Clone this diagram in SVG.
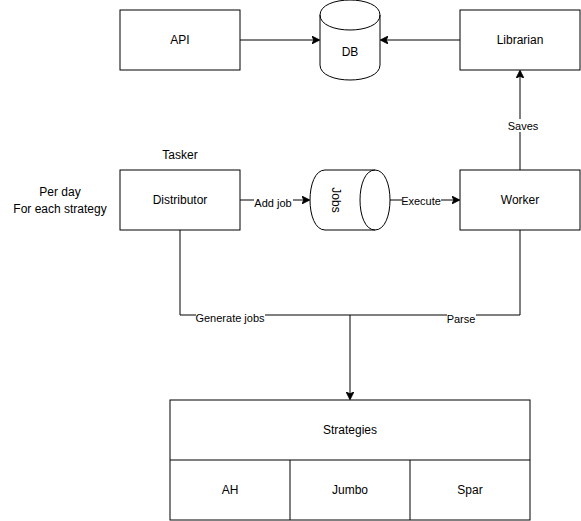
<svg xmlns="http://www.w3.org/2000/svg" width="581" height="521" viewBox="0 0 581 521">
<style>
.box{fill:#fff;stroke:#000;stroke-width:1}
.t{font-family:"Liberation Sans",Arial,Helvetica,sans-serif;font-size:12px;fill:#000;text-anchor:middle;dominant-baseline:central}
.lbl{font-family:"Liberation Sans",Arial,Helvetica,sans-serif;font-size:11px;fill:#000;text-anchor:middle;dominant-baseline:central}
.lb{fill:#fff}
.c{fill:none;stroke:#000;stroke-width:1}
</style>
<defs>
<marker id="arr" viewBox="0 0 10 10" refX="9" refY="5" markerWidth="8" markerHeight="8" markerUnits="userSpaceOnUse" orient="auto">
<path d="M0,0 L10,5 L0,10 L2.5,5 Z" fill="#000" stroke="#000" stroke-width="1"/>
</marker>
</defs>
<rect width="581" height="521" fill="#fff"/>
<g id="connectors">
<path class="c" d="M240,40 L319,40" marker-end="url(#arr)"/>
<path class="c" d="M460,40 L381,40" marker-end="url(#arr)"/>
<path class="c" d="M240,200 L309,200" marker-end="url(#arr)"/>
<path class="c" d="M390,200 L459,200" marker-end="url(#arr)"/>
<path class="c" d="M520,170 L520,71" marker-end="url(#arr)"/>
<path class="c" d="M180,230 L180,315 L520,315 L520,230"/>
<path class="c" d="M350,315 L350,399" marker-end="url(#arr)"/>
<rect class="lb" x="254" y="196" width="39" height="13"/>
<text class="lbl" x="273" y="203">Add job</text>
<rect class="lb" x="402" y="195" width="39" height="13"/>
<text class="lbl" x="421" y="201">Execute</text>
<rect class="lb" x="507" y="119" width="32" height="13"/>
<text class="lbl" x="523" y="126">Saves</text>
<rect class="lb" x="196" y="311" width="69" height="13"/>
<text class="lbl" x="230" y="318">Generate jobs</text>
<rect class="lb" x="447" y="312" width="29" height="13"/>
<text class="lbl" x="461" y="319">Parse</text>
</g>
<g id="api"><rect class="box" x="120" y="10" width="120" height="60"/><text class="t" x="180" y="40">API</text></g>
<g id="db">
<path class="box" d="M320,15 C320,-5 380,-5 380,15 L380,65 C380,85 320,85 320,65 Z"/>
<path class="c" d="M320,15 C320,35 380,35 380,15"/>
<text class="t" x="350" y="52">DB</text>
</g>
<g id="librarian"><rect class="box" x="460" y="10" width="120" height="60"/><text class="t" x="520" y="40">Librarian</text></g>
<g id="tasker"><text class="t" x="180" y="155">Tasker</text></g>
<g id="note"><text class="t" x="60" y="192">Per day</text><text class="t" x="60" y="209">For each strategy</text></g>
<g id="distributor"><rect class="box" x="120" y="170" width="120" height="60"/><text class="t" x="180" y="200">Distributor</text></g>
<g id="jobs">
<path class="box" d="M325,170 L375,170 C395,170 395,230 375,230 L325,230 C305,230 305,170 325,170 Z"/>
<path class="c" d="M375,170 C355,170 355,230 375,230"/>
<text class="t" x="336" y="200" transform="rotate(90 336 200)">Jobs</text>
</g>
<g id="worker"><rect class="box" x="460" y="170" width="120" height="60"/><text class="t" x="520" y="200">Worker</text></g>
<g id="strategies">
<rect class="box" x="170" y="400" width="360" height="120"/>
<line class="c" x1="170" y1="460" x2="530" y2="460"/>
<line class="c" x1="290" y1="460" x2="290" y2="520"/>
<line class="c" x1="410" y1="460" x2="410" y2="520"/>
<text class="t" x="350" y="430">Strategies</text>
<text class="t" x="230" y="490">AH</text>
<text class="t" x="350" y="490">Jumbo</text>
<text class="t" x="470" y="490">Spar</text>
</g>
</svg>
